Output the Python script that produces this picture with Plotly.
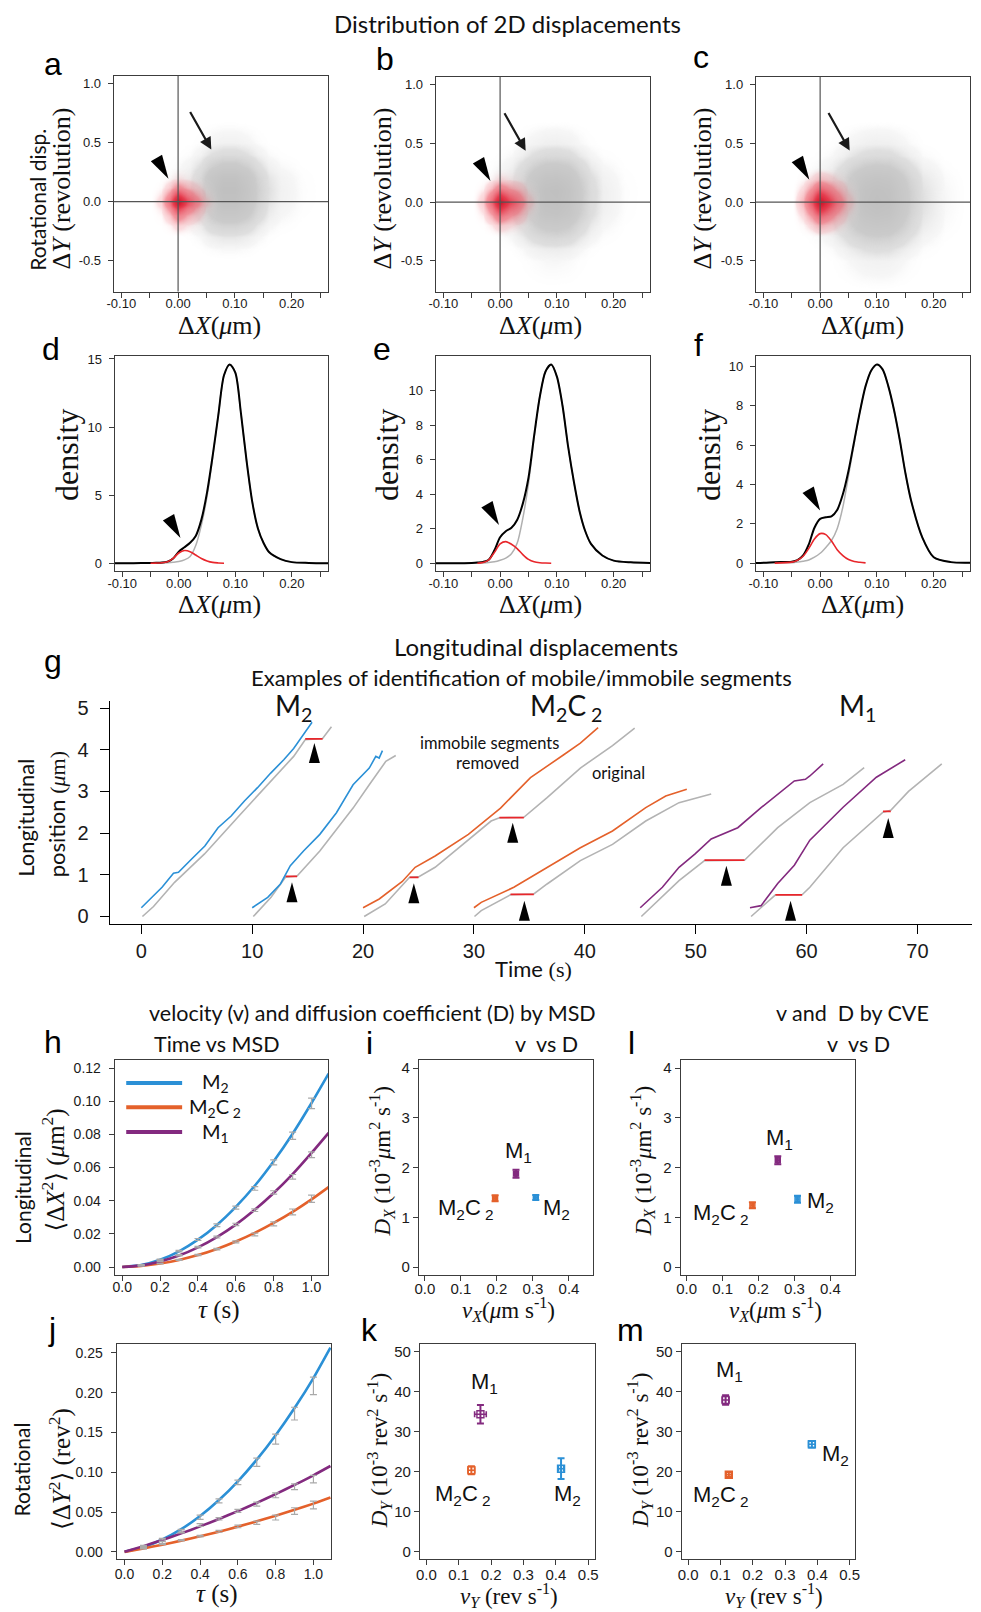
import numpy as np
import plotly.graph_objects as go

W, H = 981, 1612
SANS = "Lato"
ARIAL = "Liberation Sans"
NARROW = "Liberation Sans Narrow, Liberation Sans"
SERIF = "Liberation Serif, DejaVu Serif"

BLUE = "#2B90D6"
ORANGE = "#E4612B"
PURPLE = "#832A7F"
RED = "#E8262B"
GRAYLINE = "#B3B3B3"

# ---------------- a-c : 2D displacement clouds (relative point density) ----------------
cloud_x = [-0.113, -0.05, -0.02, 0.0, 0.02, 0.04, 0.06, 0.08, 0.10, 0.12, 0.14, 0.16, 0.18, 0.22, 0.264]
cloud_y = [-0.763, -0.5, -0.4, -0.3, -0.2, -0.1, 0.0, 0.1, 0.2, 0.3, 0.4, 0.5, 0.7, 1.07]
mobile_xdens = {
    "a": [0, 0.0, 0.01, 0.03, 0.08, 0.25, 0.70, 1.0, 1.0, 0.70, 0.30, 0.10, 0.04, 0.01, 0],
    "b": [0, 0.0, 0.01, 0.04, 0.10, 0.30, 0.65, 0.95, 1.0, 0.80, 0.40, 0.15, 0.05, 0.01, 0],
    "c": [0, 0.0, 0.02, 0.05, 0.12, 0.30, 0.60, 0.90, 1.0, 0.92, 0.60, 0.30, 0.10, 0.02, 0.0],
}
mobile_ydens = {
    "a": [0, 0.0, 0.02, 0.08, 0.25, 0.60, 0.90, 1.0, 0.85, 0.45, 0.15, 0.04, 0.0, 0],
    "b": [0, 0.02, 0.06, 0.20, 0.45, 0.80, 0.95, 1.0, 0.80, 0.45, 0.18, 0.05, 0.0, 0],
    "c": [0, 0.04, 0.12, 0.30, 0.60, 0.85, 1.0, 0.95, 0.75, 0.40, 0.15, 0.05, 0.0, 0],
}
immob_x = [-0.05, -0.03, -0.015, -0.005, 0.0, 0.005, 0.015, 0.03, 0.05, 0.07]
immob_y = [-0.3, -0.2, -0.12, -0.06, -0.02, 0.0, 0.02, 0.06, 0.12, 0.2, 0.3]
immob_xdens = {
    "a": [0, 0.08, 0.40, 0.80, 1.0, 0.85, 0.55, 0.30, 0.06, 0],
    "b": [0, 0.10, 0.45, 0.80, 1.0, 0.85, 0.60, 0.40, 0.08, 0],
    "c": [0, 0.15, 0.50, 0.85, 1.0, 0.90, 0.65, 0.35, 0.08, 0],
}
immob_ydens = {
    "a": [0, 0.08, 0.30, 0.60, 0.90, 1.0, 0.90, 0.60, 0.25, 0.05, 0],
    "b": [0, 0.10, 0.35, 0.65, 0.90, 1.0, 0.90, 0.65, 0.30, 0.06, 0],
    "c": [0.0, 0.15, 0.40, 0.70, 0.92, 1.0, 0.92, 0.70, 0.40, 0.12, 0.0],
}

# ---------------- d-f : density of longitudinal displacement ----------------
dens_x = [-0.113, -0.08, -0.05, -0.04, -0.03, -0.02, -0.01, 0.0, 0.01, 0.02, 0.03, 0.04, 0.05, 0.06,
          0.07, 0.08, 0.09, 0.10, 0.11, 0.12, 0.13, 0.14, 0.15, 0.16, 0.18, 0.20, 0.23, 0.264]
dens_total = {
    "d": [0, 0, 0.02, 0.03, 0.05, 0.12, 0.35, 0.85, 1.17, 1.5, 2.0, 3.2, 5.2, 7.9, 10.9, 13.8, 14.6, 14.0,
          11.0, 7.5, 4.5, 2.55, 1.48, 0.8, 0.3, 0.08, 0.02, 0],
    "e": [0, 0, 0.02, 0.04, 0.08, 0.2, 0.75, 1.5, 1.85, 2.05, 2.5, 3.45, 4.95, 7.4, 9.65, 11.1, 11.5, 10.8,
          9.1, 6.7, 4.7, 3.0, 1.85, 1.12, 0.45, 0.15, 0.05, 0.02],
    "f": [0, 0.05, 0.07, 0.15, 0.39, 0.95, 1.8, 2.25, 2.33, 2.38, 2.7, 3.5, 4.7, 6.2, 7.7, 9.0, 9.8, 10.1,
          9.85, 9.0, 7.8, 6.3, 4.6, 3.2, 1.3, 0.3, 0.05, 0.02],
}
dens_mobile = {
    "d": [0, 0, 0.01, 0.01, 0.02, 0.04, 0.07, 0.12, 0.24, 0.5, 1.3, 2.8, 4.9, 7.8, 10.9, 13.8, 14.6, 14.0,
          11.0, 7.5, 4.5, 2.55, 1.48, 0.8, 0.3, 0.08, 0.02, 0],
    "e": [0, 0, 0.01, 0.01, 0.02, 0.04, 0.08, 0.17, 0.3, 0.55, 1.15, 2.6, 4.6, 7.3, 9.65, 11.1, 11.5, 10.8,
          9.1, 6.7, 4.7, 3.0, 1.85, 1.12, 0.45, 0.15, 0.05, 0.02],
    "f": [0, 0.03, 0.02, 0.05, 0.1, 0.16, 0.3, 0.5, 0.8, 1.15, 1.75, 2.85, 4.45, 6.1, 7.7, 9.0, 9.8, 10.1,
          9.85, 9.0, 7.8, 6.3, 4.6, 3.2, 1.3, 0.3, 0.05, 0.02],
}
dens_immobile = {
    "d": [None, None, 0.0, 0.01, 0.03, 0.1, 0.35, 0.75, 0.93, 0.85, 0.6, 0.35, 0.17, 0.06, 0.02, 0.0] + [None] * 12,
    "e": [None, None, None, 0.0, 0.04, 0.2, 0.63, 1.12, 1.25, 1.1, 0.85, 0.5, 0.22, 0.08, 0.03, 0.01, 0.0] + [None] * 11,
    "f": [None, 0.0, 0.05, 0.15, 0.35, 0.75, 1.23, 1.5, 1.45, 1.12, 0.68, 0.38, 0.18, 0.08, 0.04, 0.01] + [None] * 12,
}

# ---------------- g : trajectories (time s, position um) ----------------
traj_colored = [  # segments with immobile periods removed (displayed +0.2 um)
    (BLUE, [0.0, 0.98, 1.87, 2.9, 3.35, 4.54, 5.73, 6.92, 8.1, 9.3, 10.48, 11.67, 12.85, 13.74, 14.6, 15.4],
     [0.21, 0.46, 0.70, 1.04, 1.06, 1.38, 1.69, 2.13, 2.41, 2.77, 3.09, 3.44, 3.76, 4.03, 4.36, 4.66]),
    (BLUE, [10.0, 11.4, 12.55, 13.44, 14.63, 16.1, 17.6, 19.1, 20.56, 21.15, 21.45, 21.75],
     [0.21, 0.46, 0.78, 1.22, 1.57, 1.97, 2.49, 3.16, 3.56, 3.84, 3.80, 3.98]),
    (ORANGE, [20.0, 21.46, 23.54, 24.7, 26.5, 29.5, 32.4, 35.1, 38.1, 39.6, 41.2],
     [0.21, 0.42, 0.84, 1.18, 1.45, 1.97, 2.6, 3.33, 3.88, 4.16, 4.53]),
    (ORANGE, [30.0, 30.66, 33.6, 36.6, 39.6, 42.5, 45.5, 47.3, 49.2],
     [0.21, 0.34, 0.70, 1.18, 1.65, 2.05, 2.61, 2.89, 3.05]),
    (PURPLE, [45.0, 47.0, 48.5, 49.95, 51.4, 53.8, 55.9, 58.9, 59.9, 60.3, 61.5],
     [0.21, 0.70, 1.18, 1.50, 1.86, 2.13, 2.61, 3.25, 3.29, 3.37, 3.66]),
    (PURPLE, [54.9, 55.9, 57.4, 58.9, 60.3, 63.3, 66.3, 68.9],
     [0.21, 0.26, 0.79, 1.23, 1.83, 2.62, 3.34, 3.76]),
]
traj_original = [
    ([0.1, 1.1, 3.0, 5.7, 8.66, 11.67, 13.74, 14.78, 16.35, 17.15],
     [0.0, 0.24, 0.82, 1.5, 2.37, 3.25, 3.84, 4.24, 4.27, 4.55]),
    ([10.1, 11.7, 13.0, 14.05, 16.1, 17.6, 19.1, 20.56, 22.05, 22.95],
     [0.0, 0.46, 0.94, 0.97, 1.57, 2.08, 2.6, 3.16, 3.72, 3.86]),
    ([20.1, 22.0, 24.2, 25.0, 26.5, 29.5, 31.55, 32.3, 34.5, 36.6, 39.6, 42.5, 44.5],
     [0.0, 0.3, 0.94, 0.95, 1.18, 1.85, 2.29, 2.37, 2.38, 2.85, 3.56, 4.1, 4.52]),
    ([30.05, 30.66, 33.3, 35.4, 36.6, 39.6, 42.5, 45.5, 48.5, 51.4],
     [0.0, 0.14, 0.52, 0.54, 0.78, 1.34, 1.73, 2.29, 2.73, 2.94]),
    ([45.1, 48.5, 50.8, 54.4, 57.4, 60.3, 63.3, 65.2],
     [0.0, 0.86, 1.34, 1.35, 2.13, 2.73, 3.17, 3.57]),
    ([55.0, 57.2, 59.6, 60.3, 63.3, 66.9, 67.6, 69.2, 72.2],
     [0.0, 0.52, 0.52, 0.70, 1.65, 2.5, 2.55, 3.0, 3.66]),
]
immobile_segments = [  # (t start, t end, position)
    (14.78, 16.35, 4.26), (13.0, 14.05, 0.96), (24.2, 25.0, 0.94), (32.3, 34.5, 2.37),
    (33.3, 35.4, 0.53), (50.8, 54.4, 1.35), (57.2, 59.6, 0.52), (66.9, 67.6, 2.52),
]
g_markers_t = [15.61, 13.59, 24.58, 33.5, 34.55, 52.77, 58.56, 67.37]
g_markers_y = [4.16, 0.82, 0.80, 2.25, 0.38, 1.22, 0.38, 2.36]

# ---------------- h, j : MSD vs lag time ----------------
tau_fit = [0.0, 0.1, 0.2, 0.3, 0.4, 0.5, 0.6, 0.7, 0.8, 0.9, 1.0, 1.09]
tau_obs = [0.1, 0.2, 0.3, 0.4, 0.5, 0.6, 0.7, 0.8, 0.9, 1.0]
msdx_fit = {
    "M2": [0, 0.0012, 0.0044, 0.0095, 0.0165, 0.0254, 0.0363, 0.049, 0.0638, 0.0804, 0.0989, 0.1166],
    "M2C2": [0, 0.0007, 0.0021, 0.0043, 0.0072, 0.0109, 0.0154, 0.0206, 0.0266, 0.0333, 0.0408, 0.0482],
    "M1": [0, 0.0010, 0.0034, 0.0070, 0.0119, 0.0181, 0.0256, 0.0345, 0.0446, 0.0560, 0.0688, 0.0809],
}
msdx_obs = {
    "M2": [0.0013, 0.0045, 0.0096, 0.0166, 0.0252, 0.0358, 0.0474, 0.0631, 0.0792, 0.0987],
    "M2C2": [0.0007, 0.0021, 0.0043, 0.0072, 0.0108, 0.0152, 0.0196, 0.0260, 0.0332, 0.0412],
    "M1": [0.0011, 0.0035, 0.0071, 0.0120, 0.0181, 0.0257, 0.0343, 0.0450, 0.0544, 0.0677],
}
msdx_err = {
    "M2": [0.0002, 0.0003, 0.0005, 0.0006, 0.0008, 0.0009, 0.0011, 0.0015, 0.0022, 0.0032],
    "M2C2": [0.0001, 0.0002, 0.0003, 0.0004, 0.0005, 0.0006, 0.0008, 0.0012, 0.0018, 0.0022],
    "M1": [0.0002, 0.0003, 0.0004, 0.0005, 0.0006, 0.0007, 0.0008, 0.0010, 0.0014, 0.0017],
}
msdy_fit = {
    "M2": [0, 0.0060, 0.0155, 0.0285, 0.0450, 0.0651, 0.0887, 0.1158, 0.1465, 0.1807, 0.2184, 0.2566],
    "M2C2": [0, 0.0043, 0.0090, 0.0141, 0.0195, 0.0254, 0.0317, 0.0383, 0.0453, 0.0528, 0.0606, 0.0682],
    "M1": [0, 0.0072, 0.0149, 0.0232, 0.0320, 0.0413, 0.0512, 0.0616, 0.0726, 0.0841, 0.0962, 0.1079],
}
msdy_obs = {
    "M2": [0.0045, 0.0118, 0.0262, 0.0435, 0.0641, 0.0873, 0.1127, 0.1417, 0.1737, 0.2085],
    "M2C2": [0.0045, 0.0095, 0.0145, 0.0197, 0.0258, 0.0320, 0.0366, 0.0431, 0.0512, 0.0589],
    "M1": [0.0075, 0.0160, 0.0250, 0.0337, 0.0415, 0.0515, 0.0600, 0.0710, 0.0818, 0.0914],
}
msdy_err = {
    "M2": [0.0008, 0.0012, 0.0020, 0.0027, 0.0025, 0.0028, 0.0052, 0.0063, 0.0080, 0.0110],
    "M2C2": [0.0004, 0.0006, 0.0008, 0.0010, 0.0012, 0.0017, 0.0021, 0.0031, 0.0042, 0.0048],
    "M1": [0.0006, 0.0009, 0.0012, 0.0017, 0.0015, 0.0019, 0.0025, 0.0030, 0.0036, 0.0048],
}

# ---------------- i, l, k, m : velocity vs diffusion coefficient ----------------
species = ["M2", "M2C2", "M1"]
species_color = {"M2": BLUE, "M2C2": ORANGE, "M1": PURPLE}
species_text = {"M2": "M<sub>2</sub>", "M2C2": "M<sub>2</sub>C<sub> 2</sub>", "M1": "M<sub>1</sub>"}
vx_msd = [0.308, 0.195, 0.253]; vx_msd_err = [0.004, 0.004, 0.004]
dx_msd = [1.40, 1.386, 1.88]; dx_msd_err = [0.05, 0.06, 0.08]
vx_cve = [0.3085, 0.183, 0.2536]; vx_cve_err = [0.004, 0.004, 0.004]
dx_cve = [1.366, 1.246, 2.15]; dx_cve_err = [0.07, 0.06, 0.08]
vy_msd = [0.416, 0.139, 0.167]; vy_msd_err = [0.008, 0.010, 0.018]
dy_msd = [20.8, 20.4, 34.4]; dy_msd_err = [2.6, 1.0, 2.3]
vy_cve = [0.383, 0.126, 0.116]; vy_cve_err = [0.010, 0.008, 0.010]
dy_cve = [26.9, 19.3, 37.96]; dy_cve_err = [0.8, 0.6, 1.2]

# ---------------- layout helpers ----------------
order = ["a", "b", "c", "d", "e", "f", "g", "h", "i", "l", "j", "k", "m"]
boxes = {  # left, right, top, bottom in pixels
    "a": (108, 325, 71, 288), "b": (434, 651, 72, 288), "c": (758, 975, 72, 288),
    "d": (109, 325, 353, 569), "e": (434, 651, 353, 569), "f": (758, 975, 353, 569),
    "g": (104, 977, 699, 924),
    "h": (109, 325, 1060, 1276), "i": (417, 593, 1060, 1276), "l": (682, 858, 1060, 1276),
    "j": (111, 328, 1346, 1562), "k": (418, 595, 1346, 1562), "m": (683, 859, 1346, 1562),
}
ref = {}
for n, key in enumerate(order, 1):
    s = "" if n == 1 else str(n)
    ref[key] = ("x" + s, "y" + s, "xaxis" + s, "yaxis" + s)

fig = go.Figure()
shapes, annotations = [], []

ROT_SHIFT = 7  # rotated annotations render slightly right of their anchor


def px(x):
    return x / W


def py(y):
    return 1 - y / H


def text(t, x, y, size, family=SANS, angle=0, color="#111", xanchor="center", yanchor="middle"):
    if angle:
        x = x - ROT_SHIFT
    annotations.append(dict(text=t, x=px(x), y=py(y), xref="paper", yref="paper", showarrow=False,
                            font=dict(family=family, size=size, color=color), textangle=angle,
                            xanchor=xanchor, yanchor=yanchor))


def tri_path(length, width, angle_deg):
    a = np.radians(angle_deg)
    ux, uy = np.cos(a), -np.sin(a)
    qx, qy = -uy, ux
    bx, by = -length * ux, -length * uy
    p1 = (bx + width / 2 * qx, by + width / 2 * qy)
    p2 = (bx - width / 2 * qx, by - width / 2 * qy)
    return f"M 0,0 L {p1[0]:.2f},{p1[1]:.2f} L {p2[0]:.2f},{p2[1]:.2f} Z"


def triangle(key, x, y, length, width, angle):
    shapes.append(dict(type="path", xref=ref[key][0], yref=ref[key][1], xsizemode="pixel",
                       ysizemode="pixel", xanchor=x, yanchor=y, path=tri_path(length, width, angle),
                       fillcolor="#000", line=dict(width=0), layer="above"))


def axis_style(rng, tickvals, ticktext=None, font=ARIAL, size=13, boxed=True, ticklen=5, minor=None, standoff=None):
    d = dict(range=rng, tickvals=tickvals, showgrid=False, zeroline=False, showline=True,
             linecolor="#3c3c3c" if boxed else "#000", linewidth=1, mirror=boxed, ticks="outside",
             ticklen=ticklen, tickwidth=1, tickcolor="#3c3c3c" if boxed else "#000",
             tickfont=dict(family=font, size=size, color="#1a1a1a"), fixedrange=True)
    if ticktext is not None:
        d["ticktext"] = ticktext
    if minor is not None:
        d["minor"] = dict(tickvals=minor, ticks="outside", ticklen=ticklen, tickwidth=1, tickcolor="#3c3c3c")
    if standoff is not None:
        d["ticklabelstandoff"] = standoff
    return d


def set_axes(key, xd, yd):
    l, r, t, b = boxes[key]
    xd.update(domain=[px(l), px(r)], anchor=ref[key][1])
    yd.update(domain=[py(b), py(t)], anchor=ref[key][0])
    fig.update_layout(**{ref[key][2]: xd, ref[key][3]: yd})


# ---------------- a-c ----------------
gray_scale = [[0, "rgba(255,255,255,0)"], [0.02, "rgba(225,225,225,0.3)"], [0.1, "rgba(212,212,212,0.75)"],
              [0.35, "rgb(203,203,203)"], [1, "rgb(192,192,192)"]]
red_scale = [[0, "rgba(255,255,255,0)"], [0.05, "rgba(245,130,140,0.25)"], [0.2, "rgba(238,80,95,0.6)"],
             [0.6, "rgba(228,40,60,0.9)"], [1, "rgb(205,15,35)"]]
xt_major = [-0.10, 0.0, 0.10, 0.20]
xt_text = ["-0.10", "0.00", "0.10", "0.20"]
xt_minor = [-0.05, 0.05, 0.15, 0.25]
arrow_tip = {"a": (0.0585, 0.443), "b": (0.045, 0.438), "c": (0.052, 0.44)}
head_tip = {"a": (-0.017, 0.195), "b": (-0.017, 0.18), "c": (-0.019, 0.19)}
for key in ["a", "b", "c"]:
    xr, yr = ref[key][0], ref[key][1]
    zg = np.outer(mobile_ydens[key], mobile_xdens[key])
    fig.add_trace(go.Heatmap(x=cloud_x, y=cloud_y, z=zg, zsmooth="best", colorscale=gray_scale, zmin=0, zmax=1,
                             showscale=False, hoverinfo="skip", xaxis=xr, yaxis=yr))
    zr = np.outer(immob_ydens[key], immob_xdens[key])
    fig.add_trace(go.Heatmap(x=immob_x, y=immob_y, z=zr, zsmooth="best", colorscale=red_scale, zmin=0, zmax=1,
                             showscale=False, hoverinfo="skip", xaxis=xr, yaxis=yr))
    shapes.append(dict(type="line", xref=xr, yref=yr + " domain", x0=0, x1=0, y0=0, y1=1,
                       line=dict(color="#555", width=1.2), layer="above"))
    shapes.append(dict(type="line", xref=xr + " domain", yref=yr, x0=0, x1=1, y0=0, y1=0,
                       line=dict(color="#555", width=1.2), layer="above"))
    tx, ty = arrow_tip[key]
    annotations.append(dict(x=tx, y=ty, xref=xr, yref=yr, ax=-22, ay=-39, showarrow=True, text="",
                            arrowhead=2, arrowsize=1.1, arrowwidth=2.2, arrowcolor="#1a1a1a"))
    hx, hy = head_tip[key]
    triangle(key, hx, hy, 24, 13, 60)
    set_axes(key, axis_style([-0.1134, 0.264], xt_major, xt_text, minor=xt_minor, standoff=-5),
             axis_style([-0.763, 1.07], [-0.5, 0, 0.5, 1.0], ["-0.5", "0.0", "0.5", "1.0"], standoff=4))

# ---------------- d-f ----------------
dens_range = {"d": [-0.585, 15.2], "e": [-0.46, 11.98], "f": [-0.41, 10.52]}
dens_ticks = {"d": [0, 5, 10, 15], "e": [0, 2, 4, 6, 8, 10], "f": [0, 2, 4, 6, 8, 10]}
dens_head = {"d": (0.003, 1.85), "e": (-0.002, 2.21), "f": (0.0, 2.67)}
for key in ["d", "e", "f"]:
    xr, yr = ref[key][0], ref[key][1]
    fig.add_trace(go.Scatter(x=dens_x, y=dens_mobile[key], mode="lines", xaxis=xr, yaxis=yr, hoverinfo="skip",
                             line=dict(color="#B0B0B0", width=1.5, shape="spline", smoothing=0.8)))
    fig.add_trace(go.Scatter(x=dens_x, y=dens_total[key], mode="lines", xaxis=xr, yaxis=yr, hoverinfo="skip",
                             line=dict(color="#000", width=2, shape="spline", smoothing=0.8)))
    fig.add_trace(go.Scatter(x=dens_x, y=dens_immobile[key], mode="lines", xaxis=xr, yaxis=yr, hoverinfo="skip",
                             line=dict(color=RED, width=1.6, shape="spline", smoothing=0.8)))
    hx, hy = dens_head[key]
    triangle(key, hx, hy, 24, 13, 60)
    set_axes(key, axis_style([-0.1134, 0.264], xt_major, xt_text, minor=xt_minor, standoff=-5),
             axis_style(dens_range[key], dens_ticks[key], standoff=4))

# ---------------- g ----------------
xr, yr = ref["g"][0], ref["g"][1]
for (t, y) in traj_original:
    fig.add_trace(go.Scatter(x=t, y=y, mode="lines", xaxis=xr, yaxis=yr, hoverinfo="skip",
                             line=dict(color=GRAYLINE, width=1.6)))
for (t0, t1, yv) in immobile_segments:
    fig.add_trace(go.Scatter(x=[t0, t1], y=[yv, yv], mode="lines", xaxis=xr, yaxis=yr, hoverinfo="skip",
                             line=dict(color=RED, width=1.8)))
for (col, t, y) in traj_colored:
    fig.add_trace(go.Scatter(x=t, y=y, mode="lines", xaxis=xr, yaxis=yr, hoverinfo="skip",
                             line=dict(color=col, width=1.6)))
for tx, ty in zip(g_markers_t, g_markers_y):
    triangle("g", tx, ty, 20, 11, -90)
set_axes("g", axis_style([-2.85, 74.93], [0, 10, 20, 30, 40, 50, 60, 70], size=20, boxed=False, ticklen=9),
         axis_style([-0.19, 5.18], [0, 1, 2, 3, 4, 5], size=20, boxed=False, ticklen=9, standoff=7))

# ---------------- h, j ----------------
for key, fit, obs, err, rng, ticks, tlab, xoff in [
    ("h", msdx_fit, msdx_obs, msdx_err, [-0.0046, 0.125], [0, 0.02, 0.04, 0.06, 0.08, 0.10, 0.12],
     ["0.00", "0.02", "0.04", "0.06", "0.08", "0.10", "0.12"], -5),
    ("j", msdy_fit, msdy_obs, msdy_err, [-0.0093, 0.2608], [0, 0.05, 0.10, 0.15, 0.20, 0.25],
     ["0.00", "0.05", "0.10", "0.15", "0.20", "0.25"], -3),
]:
    xr, yr = ref[key][0], ref[key][1]
    for sp in species:
        fig.add_trace(go.Scatter(x=tau_fit, y=fit[sp], mode="lines", xaxis=xr, yaxis=yr, hoverinfo="skip",
                                 line=dict(color=species_color[sp], width=2.6, shape="spline", smoothing=0.6)))
    for sp in species:
        fig.add_trace(go.Scatter(x=tau_obs, y=obs[sp], mode="markers", xaxis=xr, yaxis=yr, hoverinfo="skip",
                                 marker=dict(size=1, color="rgba(0,0,0,0)"),
                                 error_y=dict(type="data", array=err[sp], color="#A9A9A9", thickness=1.2, width=3.5)))
    xrng = [-0.04, 1.087] if key == "h" else [-0.042, 1.093]
    set_axes(key, axis_style(xrng, [0, 0.2, 0.4, 0.6, 0.8, 1.0], ["0.0", "0.2", "0.4", "0.6", "0.8", "1.0"],
                             size=14, standoff=xoff),
             axis_style(rng, ticks, tlab, size=14, standoff=5))

# legend of panel h
for sp, yy in zip(species, [1083.3, 1107.7, 1132.7]):
    shapes.append(dict(type="line", xref="paper", yref="paper", x0=px(120.7), x1=px(177.3), y0=py(yy), y1=py(yy),
                       line=dict(color=species_color[sp], width=4)))
    text(species_text[sp], 211, yy, 20)

# ---------------- i, l, k, m ----------------
vd_panels = [
    ("i", vx_msd, vx_msd_err, dx_msd, dx_msd_err, [-0.0164, 0.466], [-0.15, 4.17], [0, 0.1, 0.2, 0.3, 0.4],
     [0, 1, 2, 3, 4], 5, -5),
    ("l", vx_cve, vx_cve_err, dx_cve, dx_cve_err, [-0.0165, 0.467], [-0.15, 4.17], [0, 0.1, 0.2, 0.3, 0.4],
     [0, 1, 2, 3, 4], 5, -5),
    ("k", vy_msd, vy_msd_err, dy_msd, dy_msd_err, [-0.02, 0.52], [-1.84, 51.9], [0, 0.1, 0.2, 0.3, 0.4, 0.5],
     [0, 10, 20, 30, 40, 50], 7, -3),
    ("m", vy_cve, vy_cve_err, dy_cve, dy_cve_err, [-0.02, 0.518], [-1.84, 51.9], [0, 0.1, 0.2, 0.3, 0.4, 0.5],
     [0, 10, 20, 30, 40, 50], 7, -3),
]
for key, vv, ve, dd, de, xrng, yrng, xtv, ytv, msize, xoff in vd_panels:
    xr, yr = ref[key][0], ref[key][1]
    for n, sp in enumerate(species):
        fig.add_trace(go.Scatter(x=[vv[n]], y=[dd[n]], mode="markers", xaxis=xr, yaxis=yr, hoverinfo="skip",
                                 marker=dict(symbol="square-open", size=msize, color=species_color[sp],
                                             line=dict(width=1.4, color=species_color[sp])),
                                 error_y=dict(type="data", array=[de[n]], color=species_color[sp], thickness=2, width=3.5),
                                 error_x=dict(type="data", array=[ve[n]], color=species_color[sp], thickness=1.6, width=3)))
    set_axes(key, axis_style(xrng, xtv, [f"{v:.1f}" for v in xtv], font=NARROW, size=15, standoff=xoff),
             axis_style(yrng, ytv, [str(v) for v in ytv], font=NARROW, size=15))

label_pos = {
    "i": {"M1": (517.7, 1153), "M2C2": (465, 1210), "M2": (556, 1210)},
    "l": {"M1": (782.3, 1140), "M2C2": (723.3, 1215), "M2": (823.3, 1203)},
    "k": {"M1": (483.3, 1385), "M2C2": (461.7, 1497), "M2": (567.3, 1497)},
    "m": {"M1": (731.7, 1373), "M2C2": (722.7, 1498), "M2": (839, 1457)},
}
for key, d in label_pos.items():
    for sp, (lx, ly) in d.items():
        text(species_text[sp], lx, ly, 22, family=NARROW)

# ---------------- titles and panel letters ----------------
text("Distribution of 2D displacements", 507, 19, 24)
text("Longitudinal displacements", 536, 645, 24)
text("Examples of identification of mobile/immobile segments", 521, 676, 22)
text("velocity (v) and diffusion coefficient (D) by MSD", 370, 1013, 21.5)
text("Time vs MSD", 213, 1044, 21.5)
text("v  vs D", 546, 1044, 21.5)
text("v and  D by CVE", 856, 1013, 21.5)
text("v  vs D", 862, 1044, 21.5)

letters = {"a": (46.7, 70), "b": (383, 65), "c": (703, 63.3), "d": (45, 356.7), "e": (380, 356.7),
           "f": (700, 353), "g": (46.7, 670), "h": (46.7, 1053), "i": (367, 1054), "l": (632, 1054),
           "j": (46, 1342), "k": (367, 1343), "m": (631, 1343)}
for k, (lx, base) in letters.items():
    text(k, lx, base - 11, 32, family=ARIAL, color="#000")

# g labels
text(species_text["M2"], 290, 706, 28)
text("M<sub>2</sub>C<sub> 2</sub>", 566, 706, 28)
text(species_text["M1"], 861, 706, 28)
text("immobile segments", 488, 742, 16.5)
text("removed", 486, 762, 16.5)
text("original", 619, 772, 16.5)

# axis titles
text("Rotational disp.", 37, 196, 21, angle=-90)
for k, xx in zip(["a", "b", "c"], [62, 387, 711]):
    text("Δ<i>Y</i> (revolution)", xx, 184, 26, family=SERIF, angle=-90)
for xx in [215, 540, 866]:
    text("Δ<i>X</i>(<i>μ</i>m)", xx, 322, 26, family=SERIF)
    text("Δ<i>X</i>(<i>μ</i>m)", xx, 602, 26, family=SERIF)
for xx in [67, 391, 717]:
    text("density", xx, 452, 32, family=SERIF, angle=-90)
text("Longitudinal", 26, 817, 22, angle=-90)
text('position <span style="font-family:Liberation Serif">(<i>μ</i>m)</span>', 58, 813, 22, angle=-90)
text('Time <span style="font-family:Liberation Serif">(s)</span>', 533, 968, 22)

text("Longitudinal", 22, 1188, 21, angle=-90)
text("⟨Δ<i>X</i><sup>2</sup>⟩ (<i>μ</i>m<sup>2</sup>)", 54, 1171, 25, family=SERIF, angle=-90)
text("<i>τ</i> (s)", 215, 1312, 25, family=SERIF)
text("Rotational", 22, 1472, 21, angle=-90)
text("⟨Δ<i>Y</i><sup>2</sup>⟩ (rev<sup>2</sup>)", 61, 1471, 25, family=SERIF, angle=-90)
text("<i>τ</i> (s)", 213, 1597, 25, family=SERIF)

for xx in [386, 650]:
    text("<i>D<sub>X</sub></i> (10<sup>-3</sup><i>μ</i>m<sup>2</sup> s<sup>-1</sup>)", xx, 1162, 23, family=SERIF, angle=-90)
    text("<i>D<sub>Y</sub></i> (10<sup>-3</sup> rev<sup>2</sup> s<sup>-1</sup>)", xx - 2, 1453, 23, family=SERIF, angle=-90)
for xx in [508, 778]:
    text("<i>v<sub>X</sub></i>(<i>μ</i>m s<sup>-1</sup>)", xx, 1311, 23, family=SERIF)
for xx in [508, 776]:
    text("<i>v<sub>Y</sub></i> (rev s<sup>-1</sup>)", xx, 1598, 23, family=SERIF)

fig.update_layout(width=W, height=H, autosize=False, margin=dict(l=0, r=0, t=0, b=0),
                  paper_bgcolor="white", plot_bgcolor="white", showlegend=False,
                  shapes=shapes, annotations=annotations)
fig.write_html("out.html")
